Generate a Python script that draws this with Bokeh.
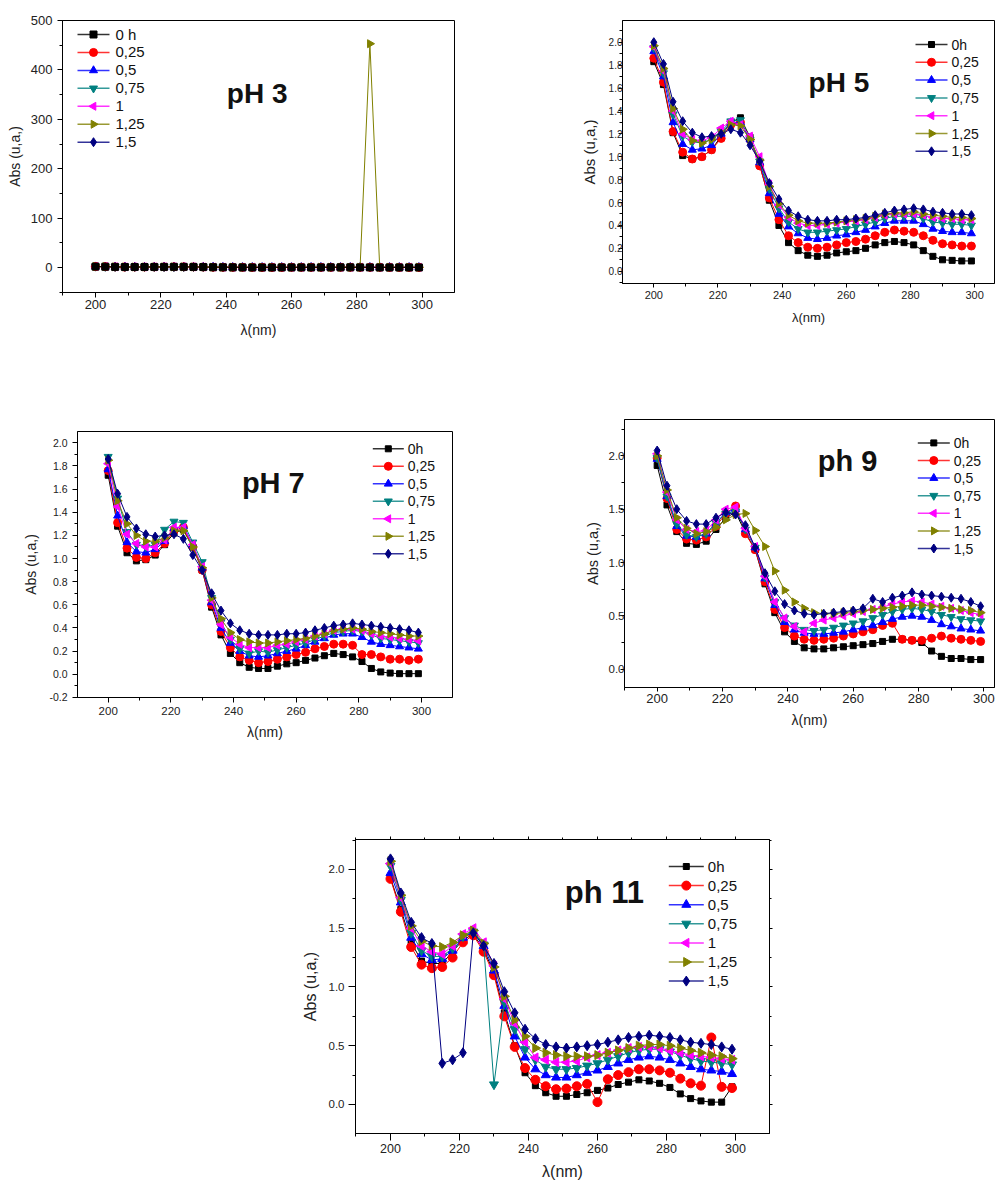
import math
from bokeh.plotting import figure
from bokeh.layouts import column, row, Spacer
from bokeh.models import (Range1d, SingleIntervalTicker, PrintfTickFormatter,
                          Label, LinearAxis)
from bokeh.core.properties import value
from bokeh.embed import file_html
from bokeh.resources import INLINE

# ---------------- data ----------------
wavelength = [200, 203, 206, 209, 212, 215, 218, 221, 224, 227,
              230, 233, 236, 239, 242, 245, 248, 251, 254, 257,
              260, 263, 266, 269, 272, 275, 278, 281, 284, 287,
              290, 293, 296, 299]

labels_ph3 = ["0 h", "0,25", "0,5", "0,75", "1", "1,25", "1,5"]
labels_std = ["0h", "0,25", "0,5", "0,75", "1", "1,25", "1,5"]

# pH 3
ph3_0h   = [1.8,1.6,1.2,1.0,1.0,1.0,1.1,1.2,1.3,1.3, 1.2,0.9,0.6,0.4,0.3,0.2,0.1,0.1,0.1,0.2, 0.2,0.2,0.2,0.2,0.3,0.3,0.3,0.2,0.2,0.1, 0.1,0.1,0.1,0.1]
ph3_025  = [1.9,1.7,1.2,1.0,1.0,1.0,1.1,1.2,1.3,1.3, 1.2,0.9,0.6,0.5,0.3,0.3,0.2,0.2,0.2,0.2, 0.3,0.3,0.3,0.3,0.3,0.4,0.4,0.3,0.3,0.3, 0.2,0.2,0.2,0.2]
ph3_05   = [1.9,1.7,1.3,1.1,1.1,1.1,1.1,1.2,1.3,1.3, 1.2,1.0,0.7,0.5,0.4,0.3,0.3,0.3,0.3,0.3, 0.3,0.3,0.4,0.4,0.4,0.4,0.4,0.4,0.4,0.4, 0.4,0.3,0.3,0.3]
ph3_075  = [2.0,1.7,1.4,1.2,1.1,1.1,1.2,1.2,1.3,1.3, 1.2,1.0,0.7,0.6,0.4,0.4,0.3,0.3,0.4,0.4, 0.4,0.4,0.4,0.4,0.5,0.5,0.5,0.5,0.5,0.4, 0.4,0.4,0.4,0.4]
ph3_1    = [2.0,1.8,1.4,1.2,1.2,1.1,1.2,1.3,1.3,1.3, 1.2,1.0,0.8,0.6,0.5,0.4,0.4,0.4,0.4,0.4, 0.4,0.4,0.5,0.5,0.5,0.5,0.5,0.5,0.5,0.5, 0.5,0.5,0.5,0.5]
ph3_125  = [2.0,1.8,1.4,1.2,1.1,1.1,1.2,1.2,1.3,1.3, 1.2,1.0,0.7,0.6,0.5,0.4,0.4,0.4,0.4,0.4, 0.4,0.5,0.5,0.5,0.5,0.5,0.5,0.5,453.0,0.5, 0.5,0.5,0.5,0.5]
ph3_15   = [2.0,1.8,1.5,1.3,1.2,1.2,1.2,1.2,1.2,1.2, 1.1,1.0,0.8,0.6,0.5,0.5,0.5,0.4,0.4,0.5, 0.5,0.5,0.5,0.5,0.5,0.5,0.5,0.6,0.5,0.5, 0.5,0.5,0.5,0.5]

# pH 5
ph5_0h   = [1.83,1.63,1.21,1.01,0.98,1.00,1.06,1.18,1.30,1.34, 1.17,0.93,0.62,0.40,0.25,0.18,0.14,0.13,0.14,0.16, 0.17,0.18,0.20,0.23,0.25,0.26,0.25,0.23,0.18,0.13, 0.10,0.095,0.09,0.09]
ph5_025  = [1.86,1.65,1.22,1.04,0.98,1.00,1.06,1.16,1.28,1.30, 1.15,0.92,0.64,0.45,0.31,0.25,0.21,0.20,0.21,0.23, 0.25,0.26,0.28,0.31,0.34,0.36,0.35,0.34,0.31,0.27, 0.24,0.23,0.22,0.22]
ph5_05   = [1.92,1.70,1.30,1.11,1.06,1.07,1.10,1.20,1.30,1.30, 1.15,0.95,0.68,0.50,0.39,0.33,0.29,0.28,0.29,0.31, 0.32,0.34,0.36,0.39,0.42,0.44,0.44,0.44,0.41,0.37, 0.35,0.34,0.34,0.33]
ph5_075  = [1.95,1.73,1.37,1.18,1.13,1.12,1.15,1.22,1.31,1.32, 1.15,0.96,0.72,0.55,0.43,0.37,0.34,0.34,0.35,0.36, 0.37,0.39,0.41,0.43,0.46,0.48,0.48,0.48,0.46,0.43, 0.42,0.41,0.41,0.40]
ph5_1    = [1.96,1.75,1.40,1.20,1.15,1.14,1.17,1.25,1.31,1.28, 1.18,1.00,0.76,0.58,0.47,0.42,0.40,0.40,0.41,0.42, 0.43,0.44,0.45,0.47,0.49,0.50,0.50,0.50,0.49,0.47, 0.46,0.46,0.45,0.45]
ph5_125  = [1.97,1.77,1.42,1.24,1.14,1.12,1.15,1.21,1.28,1.27, 1.15,0.97,0.74,0.59,0.49,0.44,0.42,0.42,0.42,0.43, 0.44,0.45,0.46,0.48,0.50,0.51,0.51,0.52,0.50,0.49, 0.48,0.47,0.47,0.46]
ph5_15   = [2.00,1.81,1.48,1.31,1.21,1.17,1.18,1.20,1.24,1.21, 1.10,0.96,0.77,0.63,0.53,0.48,0.45,0.44,0.44,0.45, 0.45,0.46,0.47,0.49,0.51,0.53,0.54,0.55,0.54,0.52, 0.51,0.50,0.50,0.49]

# pH 7
ph7_0h   = [1.72,1.28,1.05,0.98,0.99,1.03,1.12,1.22,1.25,1.10, 0.90,0.58,0.34,0.18,0.10,0.06,0.05,0.05,0.07,0.09, 0.10,0.12,0.14,0.16,0.18,0.17,0.15,0.11,0.05,0.02, 0.01,0.005,0.005,0.005]
ph7_025  = [1.76,1.31,1.09,1.01,1.00,1.05,1.13,1.24,1.27,1.10, 0.90,0.60,0.37,0.23,0.15,0.12,0.10,0.11,0.13,0.15, 0.17,0.19,0.22,0.24,0.26,0.26,0.25,0.17,0.17,0.15, 0.13,0.13,0.12,0.13]
ph7_05   = [1.77,1.37,1.14,1.06,1.05,1.08,1.15,1.26,1.28,1.12, 0.92,0.62,0.40,0.27,0.20,0.16,0.15,0.16,0.18,0.20, 0.22,0.25,0.28,0.31,0.34,0.35,0.35,0.32,0.28,0.26, 0.25,0.24,0.23,0.22]
ph7_075  = [1.88,1.52,1.23,1.12,1.10,1.12,1.25,1.32,1.31,1.14, 0.97,0.66,0.45,0.30,0.22,0.18,0.20,0.19,0.21,0.23, 0.25,0.27,0.30,0.33,0.36,0.37,0.38,0.37,0.34,0.31, 0.30,0.29,0.28,0.27]
ph7_1    = [1.82,1.45,1.21,1.13,1.10,1.10,1.16,1.27,1.27,1.12, 0.93,0.64,0.43,0.32,0.26,0.23,0.23,0.23,0.25,0.26, 0.28,0.30,0.33,0.35,0.38,0.39,0.39,0.38,0.35,0.33, 0.32,0.31,0.30,0.29]
ph7_125  = [1.85,1.50,1.30,1.20,1.15,1.15,1.18,1.24,1.24,1.10, 0.92,0.66,0.48,0.36,0.30,0.28,0.27,0.27,0.28,0.29, 0.30,0.31,0.33,0.35,0.38,0.39,0.40,0.39,0.37,0.36, 0.35,0.34,0.33,0.33]
ph7_15   = [1.86,1.56,1.36,1.26,1.21,1.19,1.20,1.21,1.17,1.03, 0.90,0.70,0.55,0.44,0.38,0.35,0.34,0.34,0.34,0.35, 0.35,0.36,0.38,0.40,0.42,0.43,0.44,0.43,0.42,0.41, 0.40,0.39,0.38,0.36]

# pH 9
ph9_0h   = [1.91,1.54,1.29,1.18,1.17,1.20,1.31,1.42,1.47,1.28, 1.12,0.80,0.53,0.35,0.26,0.20,0.19,0.19,0.20,0.21, 0.22,0.23,0.24,0.26,0.28,0.28,0.27,0.25,0.17,0.12, 0.10,0.10,0.09,0.09]
ph9_025  = [1.98,1.60,1.31,1.22,1.21,1.24,1.34,1.46,1.53,1.27, 1.12,0.82,0.56,0.39,0.31,0.28,0.27,0.28,0.29,0.31, 0.33,0.35,0.37,0.41,0.43,0.28,0.27,0.27,0.29,0.31, 0.29,0.28,0.27,0.26]
ph9_05   = [1.97,1.62,1.34,1.25,1.24,1.27,1.37,1.47,1.50,1.31, 1.14,0.85,0.60,0.44,0.37,0.34,0.33,0.33,0.34,0.35, 0.37,0.39,0.41,0.44,0.47,0.49,0.50,0.49,0.46,0.42, 0.40,0.38,0.37,0.36]
ph9_075  = [1.98,1.62,1.36,1.26,1.24,1.27,1.37,1.46,1.48,1.31, 1.14,0.86,0.63,0.48,0.41,0.37,0.36,0.37,0.39,0.41, 0.43,0.45,0.48,0.51,0.54,0.56,0.57,0.56,0.54,0.51, 0.49,0.47,0.46,0.45]
ph9_1    = [2.02,1.66,1.40,1.31,1.29,1.30,1.40,1.50,1.52,1.32, 1.15,0.87,0.63,0.48,0.40,0.35,0.43,0.46,0.48,0.50, 0.52,0.54,0.56,0.58,0.61,0.63,0.64,0.63,0.61,0.59, 0.57,0.55,0.53,0.51]
ph9_125  = [2.00,1.68,1.42,1.32,1.27,1.29,1.33,1.40,1.45,1.46, 1.30,1.15,0.92,0.74,0.63,0.57,0.53,0.52,0.52,0.53, 0.54,0.55,0.56,0.57,0.58,0.59,0.60,0.60,0.59,0.58, 0.57,0.56,0.55,0.53]
ph9_15   = [2.05,1.72,1.50,1.39,1.36,1.36,1.42,1.47,1.45,1.35, 1.14,0.90,0.73,0.61,0.55,0.52,0.51,0.52,0.53,0.54, 0.55,0.57,0.66,0.63,0.67,0.69,0.72,0.70,0.69,0.68, 0.67,0.66,0.63,0.59]

# pH 11
ph11_0h  = [1.93,1.66,1.38,1.22,1.20,1.20,1.30,1.40,1.45,1.32, 1.12,0.78,0.50,0.27,0.16,0.10,0.07,0.07,0.085,0.10, 0.12,0.14,0.17,0.19,0.21,0.20,0.18,0.145,0.09,0.05, 0.03,0.02,0.02,0.15]
ph11_025 = [1.92,1.64,1.34,1.19,1.16,1.17,1.25,1.38,1.44,1.30, 1.10,0.75,0.49,0.31,0.21,0.155,0.13,0.135,0.155,0.175, 0.02,0.215,0.25,0.275,0.30,0.30,0.29,0.27,0.22,0.18, 0.16,0.57,0.15,0.14]
ph11_05  = [1.97,1.72,1.42,1.28,1.23,1.24,1.31,1.42,1.47,1.35, 1.14,0.84,0.58,0.40,0.30,0.25,0.23,0.23,0.25,0.27, 0.29,0.32,0.35,0.38,0.40,0.41,0.40,0.38,0.35,0.32, 0.30,0.29,0.28,0.26]
ph11_075 = [2.03,1.74,1.46,1.31,1.26,1.26,1.33,1.43,1.47,1.36, 0.17,0.87,0.64,0.47,0.38,0.32,0.30,0.30,0.31,0.33, 0.35,0.38,0.41,0.44,0.46,0.47,0.47,0.45,0.42,0.39, 0.37,0.36,0.35,0.34]
ph11_1   = [2.05,1.76,1.50,1.35,1.30,1.28,1.35,1.45,1.50,1.38, 1.18,0.90,0.69,0.53,0.40,0.38,0.36,0.36,0.37,0.40, 0.42,0.44,0.46,0.48,0.49,0.49,0.48,0.46,0.44,0.42, 0.41,0.40,0.39,0.38]
ph11_125 = [2.07,1.78,1.52,1.39,1.35,1.34,1.38,1.44,1.48,1.37, 1.17,0.92,0.72,0.58,0.48,0.44,0.42,0.41,0.41,0.41, 0.42,0.44,0.46,0.48,0.50,0.51,0.51,0.50,0.48,0.46, 0.44,0.42,0.41,0.39]
ph11_15  = [2.09,1.80,1.55,1.42,1.37,0.35,0.38,0.44,1.46,1.35, 1.20,0.96,0.78,0.64,0.56,0.51,0.49,0.48,0.49,0.50, 0.51,0.53,0.55,0.57,0.58,0.59,0.58,0.57,0.55,0.53, 0.52,0.51,0.49,0.47]

# ---------------- styles ----------------
colors  = ["#000000", "#FF0000", "#0000FF", "#008080", "#FF00FF", "#808000", "#000080"]
markers = ["square", "circle", "triangle", "inverted_triangle", "triangle", "triangle", "diamond"]
angles  = [0, 0, 0, 0, math.pi / 2, -math.pi / 2, 0]
FONT = "Liberation Sans"


def make_panel(c, series, labels):
    p = figure(frame_width=c["fw"], frame_height=c["fh"],
               x_range=Range1d(*c["xr"]), y_range=Range1d(*c["yr"]),
               output_backend="svg", toolbar_location=None,
               min_border_left=c["bl"], min_border_right=c["br"],
               min_border_top=c["bt"], min_border_bottom=c["bb"])
    p.background_fill_color = "white"
    p.border_fill_color = "white"
    p.outline_line_color = "black"
    p.outline_line_alpha = 1
    p.outline_line_width = 1
    p.grid.visible = False

    ms = c["ms"]
    for k in c.get("order", range(7)):
        vals = series[k]
        assert len(vals) == len(wavelength)
        p.line(wavelength, vals, line_color=colors[k], line_width=1)
        p.scatter(wavelength, vals, marker=markers[k], angle=angles[k], size=ms[k],
                  fill_color=colors[k], line_color=colors[k])

    # legend drawn with glyphs (so that the side-pointing triangles keep their rotation)
    x0, x1 = c["xr"]
    y0, y1 = c["yr"]
    sx = c["fw"] / (x1 - x0)
    sy = c["fh"] / (y1 - y0)
    lx, cy0, pitch, gw, gap = c["leg"]
    ly = [y1 - (cy0 + k * pitch) / sy for k in range(7)]
    xa = x0 + lx / sx
    xb = x0 + (lx + gw) / sx
    xm = (xa + xb) / 2
    p.segment(x0=[xa] * 7, y0=ly, x1=[xb] * 7, y1=ly, line_color=colors,
              line_width=1.5, line_alpha=0.8)
    p.scatter(x=[xm] * 7, y=ly, marker=markers, angle=angles, size=ms,
              fill_color=colors, line_color=colors)
    p.text(x=[x0 + (lx + gw + gap) / sx] * 7, y=ly, text=labels,
           text_font=value(FONT), text_font_size=value(c["lfs"]),
           text_baseline="middle", text_align="left", text_color="#111111")

    xa_ = p.xaxis[0]
    xa_.ticker = SingleIntervalTicker(interval=20, num_minor_ticks=2)
    xa_.axis_label = "λ(nm)"
    ya_ = p.yaxis[0]
    ya_.ticker = SingleIntervalTicker(interval=c["yi"], num_minor_ticks=2)
    ya_.axis_label = "Abs (u,a,)"
    if c.get("yfmt"):
        ya_.formatter = PrintfTickFormatter(format=c["yfmt"])
    for ax, key in ((xa_, "x"), (ya_, "y")):
        ax.axis_line_color = "black"
        ax.major_tick_line_color = "black"
        ax.minor_tick_line_color = "black"
        ax.major_tick_in = 0
        ax.minor_tick_in = 0
        ax.major_tick_out = c[key + "to"]
        ax.minor_tick_out = 3
        ax.major_label_standoff = c[key + "ls"]
        ax.axis_label_standoff = c[key + "as"]
        ax.major_label_text_font = FONT
        ax.major_label_text_font_size = c[key + "tfs"]
        ax.major_label_text_color = "#222222"
        ax.axis_label_text_font = FONT
        ax.axis_label_text_font_style = "normal"
        ax.axis_label_text_font_size = c[key + "afs"]
        ax.axis_label_text_color = "#222222"

    tx, ty = c["txy"]
    p.add_layout(Label(x=tx, y=ty, text=c["title"], text_font=FONT,
                       text_font_style="bold", text_font_size=c["tfs"],
                       text_align="center", text_baseline="middle",
                       text_color="#111111"))
    return p


cfg1 = dict(fw=392, fh=272, xr=(189.9, 309.9), yr=(-50.6, 500), bl=62, br=16, bt=20, bb=108,
            ms=[7, 8, 8, 8, 8, 8, 9], order=[6, 4, 2, 3, 1, 5, 0],
            leg=(15, 14, 17.95, 32, 6), lfs="15px",
            yi=100, yfmt=None, xto=5, xls=2, xas=10, xtfs="13px", xafs="14px",
            yto=5, yls=5, yas=5, ytfs="13px", yafs="14px",
            title="pH 3", txy=(249.5, 352), tfs="28px")
cfg2 = dict(fw=372, fh=263, xr=(190.24, 306.2), yr=(-0.107, 2.1895), bl=60, br=1, bt=20, bb=117,
            ms=[6, 8, 8, 8, 8, 8, 9], leg=(293, 24, 17.8, 32, 4), lfs="14px",
            yi=0.2, yfmt="%.1f", xto=4, xls=3, xas=8, xtfs="11px", xafs="13px",
            yto=4, yls=-4, yas=8, ytfs="10px", yafs="15px",
            title="pH 5", txy=(257.7, 1.65), tfs="28px")
cfg3 = dict(fw=375, fh=266, xr=(190.2, 309.9), yr=(-0.201, 2.098), bl=77, br=18, bt=19, bb=103,
            ms=[6, 8, 8, 8, 8, 8, 9], leg=(295.3, 17.3, 17.5, 31, 4), lfs="14px",
            yi=0.2, yfmt="%.1f", xto=5, xls=4, xas=6, xtfs="11.5px", xafs="14px",
            yto=5, yls=5, yas=7, ytfs="10.5px", yafs="14px",
            title="pH 7", txy=(252.7, 1.654), tfs="29px")
cfg4 = dict(fw=370, fh=268, xr=(190.0, 303.25), yr=(-0.172, 2.341), bl=62, br=1, bt=19, bb=113,
            ms=[6, 8, 8, 8, 8, 8, 9], leg=(293.3, 23.4, 17.6, 32, 4), lfs="14px",
            yi=0.5, yfmt="%.1f", xto=4, xls=2, xas=6, xtfs="13px", xafs="14px",
            yto=4, yls=-4, yas=5, ytfs="11.5px", yafs="14.5px",
            title="ph 9", txy=(258.3, 1.953), tfs="29px")
cfg5 = dict(fw=414, fh=294, xr=(189.86, 309.86), yr=(-0.247, 2.255), bl=65, br=31, bt=39, bb=48,
            ms=[6, 9, 9, 9, 9, 9, 10], leg=(313.3, 27, 19.1, 35, 4), lfs="15px",
            yi=0.5, yfmt="%.1f", xto=7, xls=3, xas=7, xtfs="12.5px", xafs="16px",
            yto=7, yls=4, yas=7, ytfs="11.5px", yafs="16px",
            title="ph 11", txy=(262.0, 1.80), tfs="31px")

p1 = make_panel(cfg1, [ph3_0h, ph3_025, ph3_05, ph3_075, ph3_1, ph3_125, ph3_15], labels_ph3)
p2 = make_panel(cfg2, [ph5_0h, ph5_025, ph5_05, ph5_075, ph5_1, ph5_125, ph5_15], labels_std)
p3 = make_panel(cfg3, [ph7_0h, ph7_025, ph7_05, ph7_075, ph7_1, ph7_125, ph7_15], labels_std)
p4 = make_panel(cfg4, [ph9_0h, ph9_025, ph9_05, ph9_075, ph9_1, ph9_125, ph9_15], labels_std)
p5 = make_panel(cfg5, [ph11_0h, ph11_025, ph11_05, ph11_075, ph11_1, ph11_125, ph11_15], labels_std)

# ticks on all four sides for ph 11
for place in ("above", "right"):
    tk = SingleIntervalTicker(interval=20 if place == "above" else 0.5, num_minor_ticks=2)
    ax = LinearAxis(ticker=tk, major_label_text_font_size="0px", major_label_text_color=None,
                    major_tick_in=0, major_tick_out=3, minor_tick_in=0, minor_tick_out=2,
                    axis_line_color="black", major_label_standoff=0)
    p5.add_layout(ax, place)

layout = column(
    row(p1, Spacer(width=92, height=400), p2),
    row(column(Spacer(width=470, height=12), p3), Spacer(width=92, height=400), p4),
    row(Spacer(width=290, height=381), p5),
)

open("out.html", "w").write(file_html(layout, INLINE))
